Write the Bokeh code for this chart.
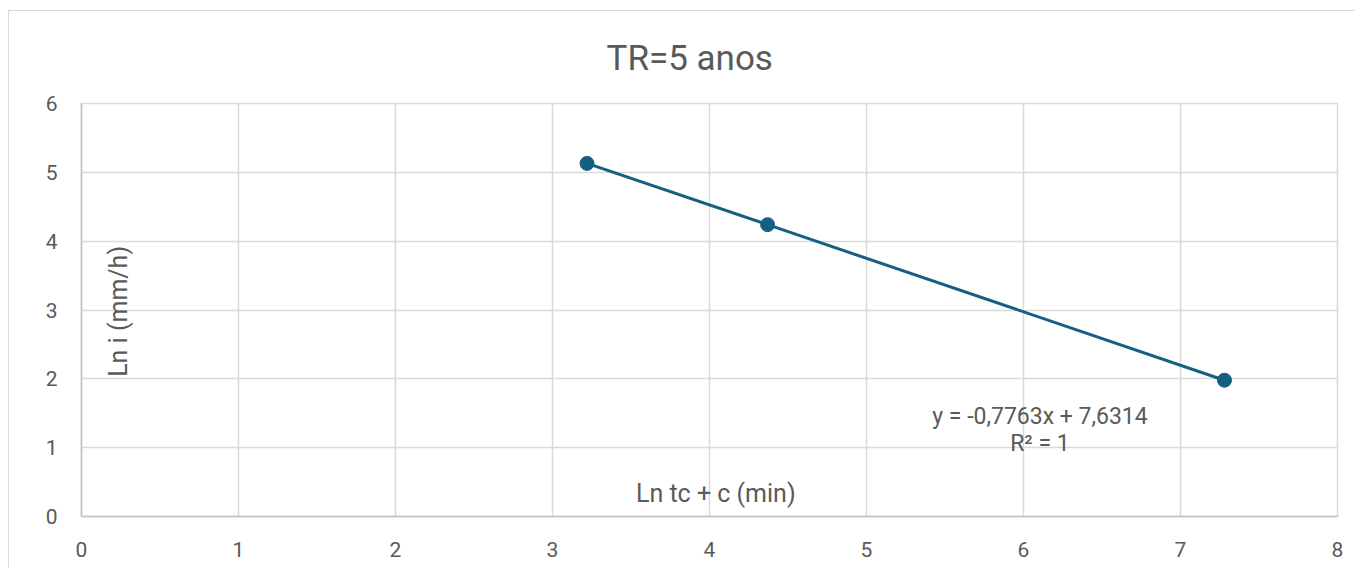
from bokeh.plotting import figure
from bokeh.models import Label, FixedTicker, Range1d, Title
from bokeh.embed import file_html
from bokeh.resources import INLINE

# data
ln_tc = [3.22, 4.37, 7.28]
ln_i = [5.13, 4.24, 1.98]
x_ticks = [0, 1, 2, 3, 4, 5, 6, 7, 8]
y_ticks = [0, 1, 2, 3, 4, 5, 6]
title_text = "TR=5 anos"
x_label = "Ln tc + c (min)"
y_label = "Ln i (mm/h)"
eq_text = "y = -0,7763x + 7,6314"
r2_text = "R² = 1"

FONT = "Roboto"
TXT = "#595959"
GRID = "#d9d9d9"
AXIS = "#bfbfbf"
BLUE = "#156082"

p = figure(width=1347, height=558, output_backend="svg", toolbar_location=None,
           x_range=Range1d(0, 8), y_range=Range1d(0, 6),
           min_border_left=72, min_border_right=19, min_border_top=91, min_border_bottom=53)
p.title = Title(text=title_text, align="left", text_font=FONT, text_font_size="35px",
                text_font_style="normal", text_color=TXT, standoff=49, offset=525)
p.styles = {"border-top": "1px solid #d9d9d9", "border-left": "1px solid #d9d9d9",
            "margin-top": "10px", "margin-left": "8px"}

p.xaxis.ticker = FixedTicker(ticks=x_ticks)
p.yaxis.ticker = FixedTicker(ticks=y_ticks)
for ax in (p.xaxis[0], p.yaxis[0]):
    ax.major_tick_line_color = None
    ax.minor_tick_line_color = None
    ax.axis_line_color = AXIS
    ax.axis_line_width = 1.5
    ax.major_label_text_font = FONT
    ax.major_label_text_font_size = "21px"
    ax.major_label_text_color = TXT
p.xaxis.major_label_standoff = 19
p.yaxis.major_label_standoff = 18

p.xgrid.ticker = FixedTicker(ticks=x_ticks)
p.ygrid.ticker = FixedTicker(ticks=y_ticks)
p.grid.grid_line_color = GRID
p.grid.grid_line_width = 1.5
p.outline_line_color = GRID
p.outline_line_width = 1.5
p.background_fill_color = "white"
p.border_fill_color = "white"

p.line(ln_tc, ln_i, line_color=BLUE, line_width=3)
p.scatter(ln_tc, ln_i, size=14, fill_color=BLUE, line_color=BLUE)

p.add_layout(Label(x=4.04, y=0.33, text=x_label, text_font=FONT, text_font_size="25px",
                   text_color=TXT, text_align="center", text_baseline="middle"))
p.add_layout(Label(x=0.235, y=2.98, text=y_label, text_font=FONT, text_font_size="25px",
                   text_color=TXT, text_align="center", text_baseline="middle", angle=1.5708))
p.add_layout(Label(x=6.105, y=1.46, text=eq_text, text_font=FONT, text_font_size="23px",
                   text_color=TXT, text_align="center", text_baseline="middle"))
p.add_layout(Label(x=6.105, y=1.055, text=r2_text, text_font=FONT, text_font_size="23px",
                   text_color=TXT, text_align="center", text_baseline="middle"))

open("out.html", "w").write(file_html(p, INLINE))
